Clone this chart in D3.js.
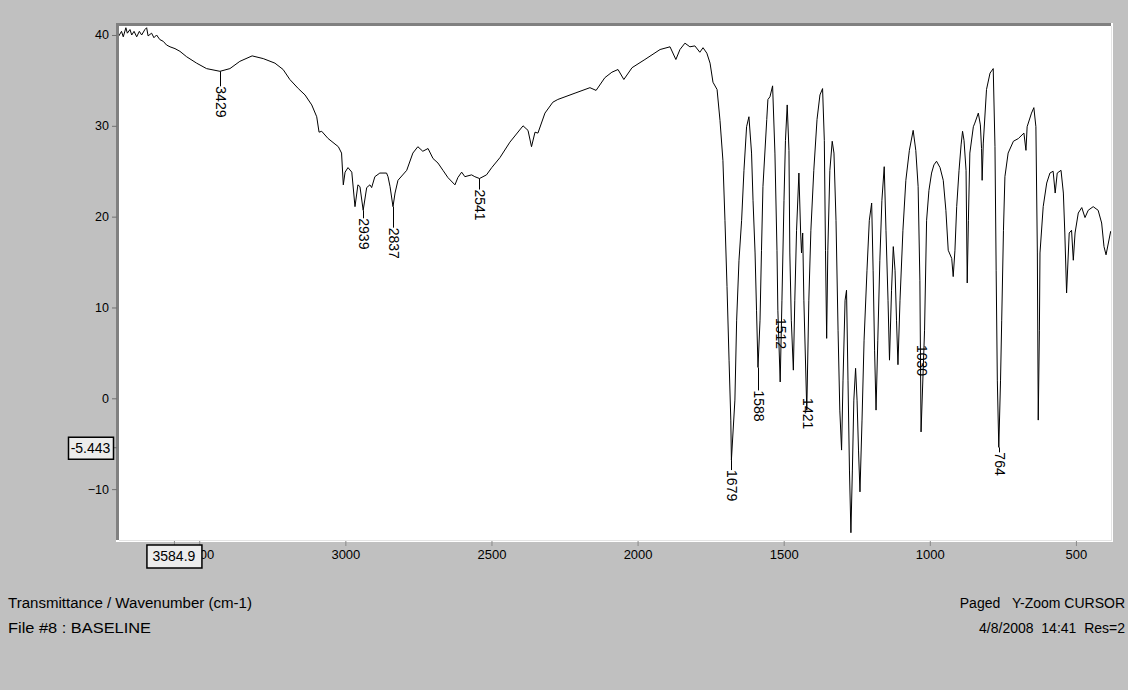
<!DOCTYPE html>
<html>
<head>
<meta charset="utf-8">
<script src="https://cdn.jsdelivr.net/npm/d3@7"></script>
<style>
  html, body { margin: 0; padding: 0; background: #c0c0c0; }
  svg { display: block; font-family: "Liberation Sans", Arial, sans-serif; }
</style>
</head>
<body>
<svg id="chart" width="1128" height="690"></svg>
<script>
// IR spectrum: wavenumber (cm-1) and transmittance
const wavenumbers = [
  3777, 3766, 3760, 3751, 3746, 3737, 3731, 3723, 3714, 3705, 3697, 3686, 3680, 3675, 3663, 3655,
  3646, 3635, 3623, 3612, 3600, 3583, 3566, 3543, 3509, 3475, 3429, 3395, 3361, 3319, 3281, 3241,
  3213, 3190, 3161, 3138, 3115, 3098, 3090, 3081, 3059, 3024, 3013, 3007, 3001, 2991, 2978, 2967,
  2957, 2950, 2939, 2927, 2916, 2910, 2899, 2882, 2859, 2854, 2847, 2837, 2830, 2820, 2790, 2769,
  2752, 2735, 2717, 2700, 2683, 2666, 2649, 2625, 2615, 2602, 2591, 2568, 2557, 2541, 2517, 2499,
  2471, 2437, 2392, 2375, 2363, 2351, 2341, 2317, 2290, 2273, 2214, 2163, 2142, 2112, 2088, 2067,
  2047, 2019, 1975, 1923, 1889, 1869, 1855, 1838, 1821, 1804, 1787, 1776, 1763, 1752, 1742, 1728,
  1718, 1708, 1701, 1694, 1687, 1681, 1679, 1667, 1661, 1653, 1644, 1636, 1627, 1619, 1610, 1605,
  1598, 1593, 1588, 1581, 1576, 1571, 1558, 1554, 1547, 1538, 1530, 1523, 1520, 1512, 1506, 1499,
  1494, 1488, 1482, 1479, 1474, 1467, 1462, 1456, 1448, 1442, 1439, 1435, 1431, 1421, 1414, 1407,
  1397, 1386, 1376, 1367, 1361, 1357, 1353, 1349, 1342, 1334, 1328, 1321, 1314, 1308, 1302, 1297,
  1290, 1285, 1280, 1275, 1270, 1265, 1260, 1254, 1249, 1244, 1239, 1232, 1225, 1215, 1207, 1199,
  1194, 1189, 1184, 1178, 1171, 1164, 1156, 1150, 1143, 1138, 1131, 1125, 1119, 1114, 1109, 1102,
  1092, 1082, 1070, 1057, 1048, 1040, 1034, 1030, 1018, 1011, 1003, 994, 986, 977, 965, 954,
  945, 937, 925, 920, 914, 908, 900, 893, 888, 883, 876, 872, 868, 863, 851, 846,
  834, 827, 823, 821, 817, 806, 794, 783, 777, 773, 769, 764, 758, 754, 748, 743,
  732, 714, 697, 678, 671, 667, 652, 644, 637, 632, 629, 625, 623, 612, 600, 589,
  578, 571, 564, 551, 543, 538, 532, 523, 515, 509, 503, 492, 480, 469, 458, 441,
  424, 412, 404, 397, 389, 381
];
const transmittance = [
  39.8, 40.4, 39.8, 40.8, 40.2, 40.6, 40.0, 40.4, 39.8, 40.4, 40.0, 40.6, 40.8, 39.9, 40.2, 39.7,
  40.0, 39.5, 39.3, 38.9, 38.7, 38.5, 38.2, 37.6, 36.9, 36.3, 36.0, 36.3, 37.1, 37.7, 37.4, 36.9,
  36.2, 35.1, 34.1, 33.4, 32.3, 31.0, 29.3, 29.4, 28.6, 27.7, 27.0, 23.5, 24.9, 25.4, 24.9, 21.1,
  23.5, 23.3, 20.7, 23.2, 23.5, 23.2, 24.4, 24.8, 24.8, 24.4, 23.3, 21.1, 22.6, 24.0, 25.1, 27.0,
  27.7, 27.2, 27.5, 26.4, 25.9, 25.1, 24.3, 23.5, 24.3, 24.9, 24.4, 24.6, 24.4, 24.2, 24.6, 25.4,
  26.5, 28.2, 30.0, 29.5, 27.7, 29.3, 29.2, 31.4, 32.6, 32.9, 33.6, 34.2, 33.9, 35.3, 35.9, 36.2,
  35.1, 36.4, 37.3, 38.4, 38.7, 37.3, 38.4, 39.1, 38.7, 38.8, 38.1, 38.6, 38.0, 36.9, 34.8, 34.0,
  30.6, 26.2, 19.6, 12.3, 4.2, -2.4, -6.8, -0.2, 8.6, 15.2, 19.6, 25.1, 29.9, 31.0, 27.0, 21.8,
  16.0, 9.7, 3.4, 8.6, 16.3, 23.3, 30.7, 32.9, 33.2, 34.4, 27.0, 16.3, 9.7, 1.8, 10.8, 21.8,
  28.4, 32.3, 27.3, 16.0, 8.6, 3.1, 10.8, 18.5, 24.8, 18.2, 16.0, 18.2, 10.8, -1.3, 10.8, 18.5,
  25.1, 30.7, 33.4, 34.1, 28.4, 16.3, 6.6, 16.3, 25.1, 28.3, 27.0, 19.6, 7.5, -1.3, -5.7, 2.0,
  10.8, 11.9, 2.0, -7.9, -14.8, -7.9, -0.2, 3.3, -0.2, -5.7, -10.3, -2.4, 6.4, 14.1, 19.6, 21.5,
  14.1, 5.3, -1.3, 6.4, 15.2, 21.8, 25.5, 18.5, 10.8, 4.2, 11.9, 16.7, 14.1, 8.6, 3.7, 10.8,
  18.5, 24.0, 27.3, 29.5, 27.3, 23.3, 13.0, -3.7, 7.5, 19.6, 22.9, 24.8, 25.7, 26.1, 25.4, 24.0,
  20.7, 16.3, 15.4, 13.4, 16.3, 21.1, 25.1, 27.9, 29.4, 28.4, 25.1, 12.7, 19.6, 27.0, 29.9, 30.3,
  31.4, 30.1, 27.5, 24.0, 28.1, 34.0, 35.8, 36.3, 27.7, 14.1, 2.0, -5.4, 2.0, 8.6, 18.5, 24.4,
  27.0, 28.3, 28.6, 29.2, 27.3, 29.9, 31.4, 32.0, 29.9, 16.0, -2.4, 7.5, 16.0, 21.1, 23.7, 24.8,
  25.0, 22.6, 24.8, 25.1, 22.6, 18.2, 11.6, 18.2, 18.5, 15.2, 18.2, 20.4, 21.0, 19.9, 20.7, 21.1,
  20.7, 19.3, 16.7, 15.8, 17.1, 18.4
];

// Peak picks (cm-1)
const peakLabels = [3429, 2939, 2837, 2541, 1679, 1588, 1512, 1421, 1030, 764];

// Axis ticks
const xTicks = [3500, 3000, 2500, 2000, 1500, 1000, 500];
const yTicks = [40, 30, 20, 10, 0, -10];

// Cursor read-out
const cursorX = 3584.9;
const cursorY = -5.443;

// Status lines
const footerLeft = ["Transmittance / Wavenumber (cm-1)", "File #8 : BASELINE"];
const footerRight = ["Paged\u00a0\u00a0\u00a0Y-Zoom CURSOR", "4/8/2008\u00a0\u00a014:41\u00a0\u00a0Res=2"];

// ---------------------------------------------------------------
const svg = d3.select("#chart");
const plot = { left: 118, top: 25, right: 1111, bottom: 540 };

const x = d3.scaleLinear().domain([3778, 380]).range([plot.left, plot.right]);
const y = d3.scaleLinear().domain([-15.6, 41.1]).range([plot.bottom, plot.top]);

const spectrum = wavenumbers.map((w, i) => ({ w, t: transmittance[i] }));

// Sunken plot frame
svg.append("rect").attr("x", plot.left - 2).attr("y", plot.top - 2)
  .attr("width", plot.right - plot.left + 4).attr("height", plot.bottom - plot.top + 4)
  .attr("fill", "#ffffff");
svg.append("rect").attr("x", plot.left - 2).attr("y", plot.top - 2)
  .attr("width", plot.right - plot.left + 2).attr("height", plot.bottom - plot.top + 2)
  .attr("fill", "#808080");
svg.append("rect").attr("x", plot.left + 1).attr("y", plot.top + 1)
  .attr("width", plot.right - plot.left - 1).attr("height", plot.bottom - plot.top - 1)
  .attr("fill", "#ffffff");
svg.append("line").attr("x1", plot.left + 1).attr("x2", plot.right + 1)
  .attr("y1", plot.bottom + 0.5).attr("y2", plot.bottom + 0.5)
  .attr("stroke", "#e4e4e4");
svg.append("line").attr("x1", plot.right + 0.5).attr("x2", plot.right + 0.5)
  .attr("y1", plot.top + 1).attr("y2", plot.bottom + 1)
  .attr("stroke", "#e4e4e4");

svg.append("clipPath").attr("id", "plot-clip")
  .append("rect").attr("x", plot.left + 1).attr("y", plot.top + 1)
  .attr("width", plot.right - plot.left - 1).attr("height", plot.bottom - plot.top - 1);

// Y axis
const yAxis = svg.append("g")
  .attr("transform", `translate(${plot.left - 1},0)`)
  .call(d3.axisLeft(y).tickValues(yTicks).tickSize(5).tickPadding(3).tickFormat(d3.format("d")));
yAxis.select(".domain").remove();
yAxis.selectAll(".tick line").attr("stroke", "#707070");
yAxis.selectAll(".tick text").attr("font-size", 12.5).attr("fill", "#000")
  .attr("font-family", "Liberation Sans, Arial, sans-serif");

// X axis
const xAxis = svg.append("g")
  .attr("transform", `translate(0,${plot.bottom + 1})`)
  .call(d3.axisBottom(x).tickValues(xTicks).tickSize(5).tickPadding(4).tickFormat(d3.format("d")));
xAxis.select(".domain").remove();
xAxis.selectAll(".tick line").attr("stroke", "#8a8a8a");
xAxis.selectAll(".tick text").attr("font-size", 13).attr("fill", "#000")
  .attr("font-family", "Liberation Sans, Arial, sans-serif");

// Spectrum trace
const line = d3.line().x(d => x(d.w)).y(d => y(d.t));
svg.append("path")
  .datum(spectrum)
  .attr("clip-path", "url(#plot-clip)")
  .attr("fill", "none")
  .attr("stroke", "#000")
  .attr("stroke-width", 1)
  .attr("stroke-linejoin", "miter")
  .attr("d", line);

// Peak labels: leader drop below each picked minimum (pixels; negative sits over the trace)
const labelDrop = { 3429: 15, 2939: 8, 2837: 21, 2541: 11, 1679: 10, 1588: 23,
                    1512: -64, 1421: -12, 1030: -87, 764: 5 };
const peaks = peakLabels.map(w => {
  const p = spectrum.find(d => d.w === w);
  return { w, t: p.t };
});
const pk = svg.append("g");
peaks.forEach(p => {
  const px = Math.round(x(p.w)) + 0.5;
  const py = y(p.t);
  const top = py + labelDrop[p.w];
  if (labelDrop[p.w] > 0) {
    pk.append("line").attr("x1", px).attr("x2", px)
      .attr("y1", py).attr("y2", top).attr("stroke", "#000").attr("stroke-width", 1);
  }
  pk.append("text")
    .attr("transform", `translate(${px},${top}) rotate(90)`)
    .attr("dy", "0.35em")
    .attr("font-size", 14)
    .attr("fill", "#000")
    .text(p.w);
});

// Cursor ticks and read-out boxes
svg.append("line")
  .attr("x1", plot.left - 6).attr("x2", plot.left - 1)
  .attr("y1", y(cursorY)).attr("y2", y(cursorY)).attr("stroke", "#707070");
svg.append("line")
  .attr("x1", x(cursorX)).attr("x2", x(cursorX))
  .attr("y1", plot.bottom + 1).attr("y2", plot.bottom + 6).attr("stroke", "#8a8a8a");

function readout(cx, cy, w, h, label) {
  const g = svg.append("g");
  g.append("rect").attr("x", cx - w / 2 + 0.5).attr("y", cy - h / 2 + 0.5)
    .attr("width", w).attr("height", h)
    .attr("fill", "#ececec").attr("stroke", "#000").attr("stroke-width", 1.5);
  g.append("text").attr("x", cx).attr("y", cy).attr("dy", "0.36em")
    .attr("text-anchor", "middle").attr("font-size", 14).attr("fill", "#000").text(label);
}
readout(90.5, y(cursorY), 45, 22, cursorY.toFixed(3));
readout(x(cursorX) - 0.5, 556, 55, 23, cursorX.toFixed(1));

// Status lines (left lines are set to the width of the status bar font)
const footer = svg.append("g").attr("font-size", 14).attr("fill", "#000");
const leftWidths = [244, 143];
footerLeft.forEach((s, i) => footer.append("text").attr("x", 8).attr("y", 608 + i * 25)
  .attr("textLength", leftWidths[i]).attr("lengthAdjust", "spacingAndGlyphs").text(s));
footerRight.forEach((s, i) => footer.append("text").attr("x", 1125).attr("y", 608 + i * 25)
  .attr("text-anchor", "end").text(s));
</script>
</body>
</html>
